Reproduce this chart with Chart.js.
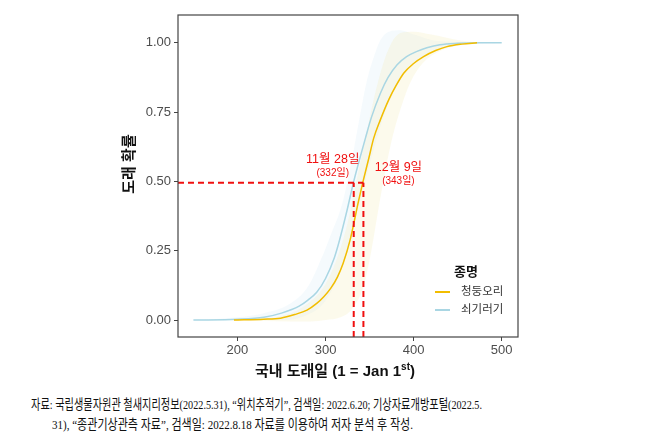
<!DOCTYPE html>
<html>
<head>
<meta charset="utf-8">
<script src="https://cdn.jsdelivr.net/npm/chart.js@4"></script>
<style>
  body { margin: 0; background: #fff; width: 656px; height: 434px; overflow: hidden; }
  #wrap { position: relative; width: 656px; height: 385px; }
  .note { position: absolute; left: 31px; font-family: "Liberation Serif", "Noto Sans CJK KR", serif; font-size: 13.5px; color: #111; white-space: nowrap; transform-origin: 0 50%; }
</style>
</head>
<body>
<div id="wrap"><canvas id="chart" width="656" height="385"></canvas></div>
<div class="note" id="n1" style="top:393px" data-w="451">자료: 국립생물자원관 철새지리정보(2022.5.31), “위치추적기”, 검색일: 2022.6.20; 기상자료개방포털(2022.5.</div>
<div class="note" id="n2" style="top:413px; left:52px" data-w="361">31), “종관기상관측 자료”, 검색일: 2022.8.18 자료를 이용하여 저자 분석 후 작성.</div>
<script>
// series names
const speciesNames = ['청둥오리', '쇠기러기'];

// 청둥오리 (mallard) curve
const mallardX = [196, 230, 249, 265, 279, 290, 298, 306, 313.6, 320, 328, 337.5, 342.6, 348.7, 354.7, 362, 371.7, 380, 388.7, 400, 411.3, 425, 437.8, 455, 472];
const mallardY = [0, 0.003, 0.007, 0.02, 0.036, 0.06, 0.084, 0.115, 0.156, 0.205, 0.29, 0.43, 0.5, 0.578, 0.656, 0.72, 0.794, 0.845, 0.89, 0.925, 0.95, 0.972, 0.986, 0.995, 1.0];
// 청둥오리 band
const mallardUpX = [196, 250, 280, 300, 315, 325, 335, 345, 355, 365, 375, 385, 400, 420, 450, 472];
const mallardUpY = [0, 0.015, 0.06, 0.13, 0.24, 0.35, 0.5, 0.65, 0.8, 0.92, 1.0, 1.035, 1.04, 1.03, 1.01, 1.0];
const mallardLoX = [196, 260, 283, 300, 317, 330, 343, 352, 360, 368, 376, 386, 396, 410, 430, 450, 472];
const mallardLoY = [0, -0.005, -0.005, 0, 0.01, 0.04, 0.12, 0.25, 0.4, 0.54, 0.66, 0.77, 0.855, 0.925, 0.97, 0.99, 1.0];

// 쇠기러기 (white-fronted goose) curve
const gooseX = [150, 200, 230, 250, 270, 280, 290, 300, 310, 315, 324.5, 332, 338.5, 345.3, 352, 362.3, 371, 381, 392, 403.8, 415, 430, 450, 475, 500];
const gooseY = [0, 0.003, 0.01, 0.025, 0.05, 0.072, 0.1, 0.15, 0.225, 0.278, 0.397, 0.5, 0.578, 0.656, 0.73, 0.818, 0.875, 0.92, 0.95, 0.969, 0.982, 0.993, 0.998, 1.0, 1.0];
// 쇠기러기 band
const gooseUpX = [150, 200, 230, 260, 280, 295, 305, 319, 330, 337.5, 347, 355, 362, 372, 385, 400, 430, 500];
const gooseUpY = [0, 0.01, 0.025, 0.06, 0.12, 0.22, 0.3, 0.42, 0.58, 0.71, 0.864, 0.95, 1.008, 1.04, 1.045, 1.03, 1.005, 1.0];
const gooseLoX = [150, 250, 280, 300, 320, 335, 345, 355, 370, 390, 410, 440, 500];
const gooseLoY = [0, 0, 0.02, 0.07, 0.2, 0.38, 0.5, 0.62, 0.77, 0.89, 0.95, 0.985, 1.0];

// arrival day at 50%
const crossDays = [332, 343];
const crossProb = 0.495;
const crossLabels = ['11월 28일', '12월 9일'];
const crossSubs = ['(332일)', '(343일)'];

const xTicks = [200, 300, 400, 500];
const yTicks = [0, 0.25, 0.5, 0.75, 1.0];
const xMin = 132.5, xMax = 518.5, yMin = -0.061, yMax = 1.1;

const mallardColor = '#F2BD00';
const gooseColor = '#A9D6E3';
const redColor = '#F01010';
const FONT = '"Liberation Sans", "Noto Sans CJK KR", sans-serif';

const pts = (xs, ys) => xs.map((x, i) => ({ x: x, y: ys[i] }));

const redDash = { showLine: true, pointRadius: 0, borderColor: redColor, borderWidth: 2, borderDash: [6, 4], fill: false, order: -1 };
const band = { showLine: true, pointRadius: 0, borderWidth: 0, borderColor: 'rgba(0,0,0,0)', cubicInterpolationMode: 'monotone' };

const datasets = [
    { label: speciesNames[0], data: pts(mallardX, mallardY), showLine: true, pointRadius: 0, borderColor: mallardColor, borderWidth: 1.5, cubicInterpolationMode: 'monotone', fill: false, order: 0 },
    { label: speciesNames[1], data: pts(gooseX, gooseY), showLine: true, pointRadius: 0, borderColor: gooseColor, borderWidth: 1.5, cubicInterpolationMode: 'monotone', fill: false, order: 0 },
    Object.assign({ label: 'h', data: [{ x: xMin, y: crossProb }, { x: crossDays[1], y: crossProb }] }, redDash),
    Object.assign({ label: 'v1', data: [{ x: crossDays[0], y: yMin }, { x: crossDays[0], y: crossProb }] }, redDash),
    Object.assign({ label: 'v2', data: [{ x: crossDays[1], y: yMin }, { x: crossDays[1], y: crossProb }] }, redDash),
    // bands (upper fills down to the lower one)
    Object.assign({ label: 'gu', data: pts(gooseUpX, gooseUpY), backgroundColor: 'rgba(205,232,245,0.2)', fill: { target: 6 }, order: 2 }, band),
    Object.assign({ label: 'gl', data: pts(gooseLoX, gooseLoY), fill: false, order: 2 }, band),
    Object.assign({ label: 'mu', data: pts(mallardUpX, mallardUpY), backgroundColor: 'rgba(240,232,170,0.22)', fill: { target: 8 }, order: 1 }, band),
    Object.assign({ label: 'ml', data: pts(mallardLoX, mallardLoY), fill: false, order: 1 }, band)
];

// frame, annotations, axis titles and legend
const extras = {
    id: 'extras',
    afterDraw(chart) {
        const ctx = chart.ctx, a = chart.chartArea;
        const sx = chart.scales.x, sy = chart.scales.y;
        ctx.save();
        ctx.strokeStyle = '#444';
        ctx.lineWidth = 1.2;
        ctx.strokeRect(a.left, a.top, a.right - a.left, a.bottom - a.top);

        // 50% labels
        const py = sy.getPixelForValue(crossProb);
        const offs = [-21, 35];
        ctx.fillStyle = redColor;
        ctx.textAlign = 'center';
        ctx.textBaseline = 'middle';
        crossDays.forEach((d, i) => {
            const px = sx.getPixelForValue(d) + offs[i];
            const top = i === 0 ? py - 23 : py - 15;
            ctx.font = '12.5px ' + FONT;
            ctx.fillText(crossLabels[i], px, top);
            ctx.font = '10px ' + FONT;
            ctx.fillText(crossSubs[i], px, top + 13);
        });

        // x title with superscript
        ctx.fillStyle = '#111';
        ctx.textAlign = 'left';
        ctx.textBaseline = 'alphabetic';
        const t1 = '국내 도래일 (1 = Jan 1', t2 = 'st', t3 = ')';
        ctx.font = 'bold 15px ' + FONT;
        const w1 = ctx.measureText(t1).width, w3 = ctx.measureText(t3).width;
        ctx.font = 'bold 10px ' + FONT;
        const w2 = ctx.measureText(t2).width;
        let x0 = 335 - (w1 + w2 + w3) / 2;
        const by = 376;
        ctx.font = 'bold 15px ' + FONT;
        ctx.fillText(t1, x0, by);
        ctx.font = 'bold 10px ' + FONT;
        ctx.fillText(t2, x0 + w1, by - 6);
        ctx.font = 'bold 15px ' + FONT;
        ctx.fillText(t3, x0 + w1 + w2, by);

        // y title
        ctx.save();
        ctx.translate(130, 164);
        ctx.rotate(-Math.PI / 2);
        ctx.textAlign = 'center';
        ctx.textBaseline = 'middle';
        ctx.font = 'bold 15px ' + FONT;
        ctx.fillText('도래 확률', 0, 0);
        ctx.restore();

        // legend
        ctx.textAlign = 'center';
        ctx.textBaseline = 'middle';
        ctx.font = 'bold 13px ' + FONT;
        ctx.fillStyle = '#111';
        ctx.fillText('종명', 466, 272);
        ctx.textAlign = 'left';
        ctx.font = '11.5px ' + FONT;
        [0, 1].forEach(i => {
            const ly = 292 + i * 18;
            ctx.strokeStyle = chart.data.datasets[i].borderColor;
            ctx.lineWidth = 2;
            ctx.beginPath();
            ctx.moveTo(435, ly);
            ctx.lineTo(450, ly);
            ctx.stroke();
            ctx.fillStyle = '#333';
            ctx.fillText(chart.data.datasets[i].label, 461, ly);
        });
        ctx.restore();
    }
};

new Chart(document.getElementById('chart'), {
    type: 'scatter',
    data: { datasets: datasets },
    options: {
        responsive: false,
        animation: false,
        events: [],
        layout: { padding: { left: 118, top: 15, right: 138, bottom: 0 } },
        plugins: { legend: { display: false }, tooltip: { enabled: false } },
        scales: {
            x: {
                type: 'linear', min: xMin, max: xMax,
                afterBuildTicks: s => { s.ticks = xTicks.map(v => ({ value: v })); },
                afterFit: s => { s.height = 48; },
                grid: { drawOnChartArea: false, drawTicks: true, tickLength: 4, color: '#444' },
                border: { display: false },
                ticks: { color: '#4d4d4d', font: { family: FONT, size: 13 }, padding: 2, maxRotation: 0 }
            },
            y: {
                type: 'linear', min: yMin, max: yMax,
                afterBuildTicks: s => { s.ticks = yTicks.map(v => ({ value: v })); },
                afterFit: s => { s.width = 60; },
                grid: { drawOnChartArea: false, drawTicks: true, tickLength: 4, color: '#444' },
                border: { display: false },
                ticks: { color: '#4d4d4d', font: { family: FONT, size: 13 }, padding: 3, callback: v => Number(v).toFixed(2) }
            }
        }
    },
    plugins: [extras]
});

// squeeze the source notes to the reference line widths
document.querySelectorAll('.note').forEach(el => {
    const w = el.getBoundingClientRect().width;
    el.style.transform = 'scaleX(' + (Number(el.dataset.w) / w) + ')';
});
</script>
</body>
</html>
